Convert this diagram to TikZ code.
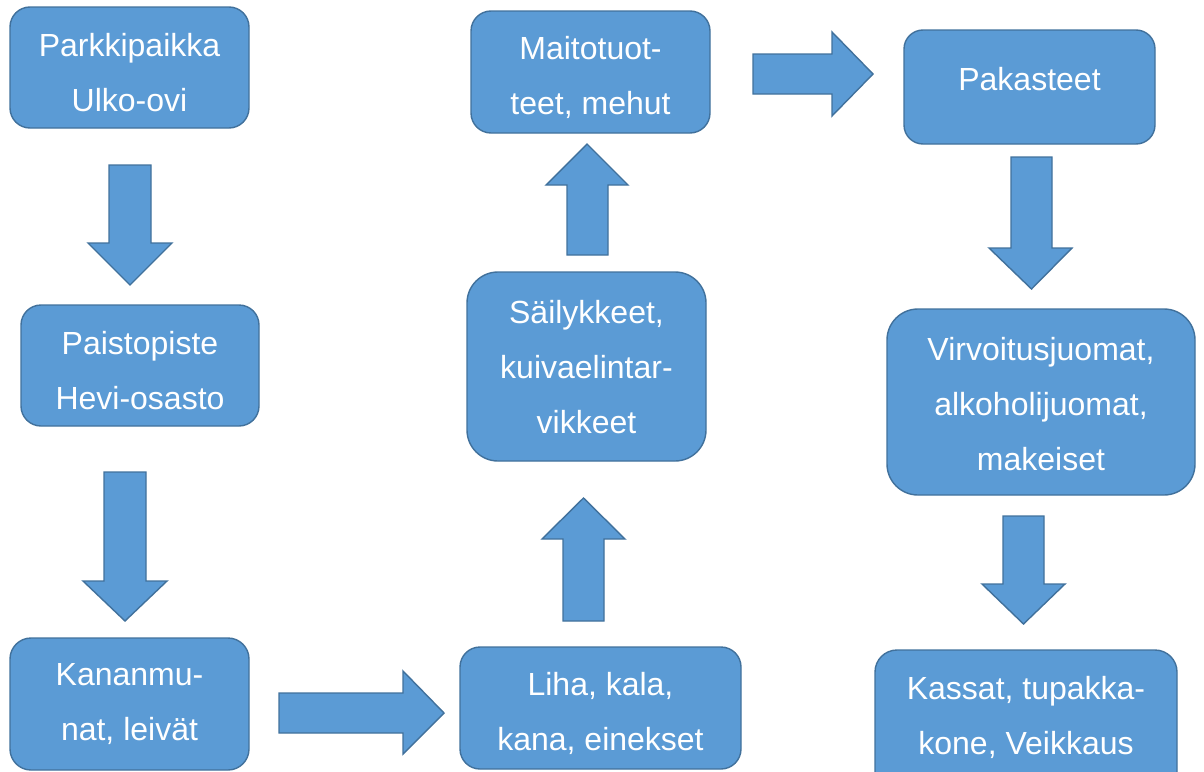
\documentclass[tikz,border=0pt]{standalone}
\usepackage{fontspec}
\setmainfont{Liberation Sans}
\definecolor{boxfill}{HTML}{5B9BD5}
\definecolor{boxline}{HTML}{41719C}
\begin{document}
\begin{tikzpicture}[x=1pt,y=-1pt,
  stage/.style={draw=boxline,fill=boxfill,line width=1.4pt,inner sep=0pt,rectangle},
  lbl/.style={text=white,align=center,inner sep=0pt,font=\fontsize{32}{55}\selectfont},
  blockarrow/.style={draw=boxline,fill=boxfill,line width=1.4pt,line join=miter}]
\useasboundingbox (0,0) rectangle (1204,771);
% boxes
\node[stage,minimum width=239pt,minimum height=121pt,rounded corners=20pt] (b1) at (129.5,67.5) {};
\node[stage,minimum width=238pt,minimum height=121pt,rounded corners=20pt] (b2) at (140,365.5) {};
\node[stage,minimum width=239pt,minimum height=132pt,rounded corners=21pt] (b3) at (129.5,704) {};
\node[stage,minimum width=281pt,minimum height=122pt,rounded corners=20pt] (b4) at (600.5,708) {};
\node[stage,minimum width=239pt,minimum height=189pt,rounded corners=31pt] (b5) at (586.5,366.5) {};
\node[stage,minimum width=239pt,minimum height=122pt,rounded corners=20pt] (b6) at (590.5,72) {};
\node[stage,minimum width=251pt,minimum height=114pt,rounded corners=19pt] (b7) at (1029.5,87) {};
\node[stage,minimum width=308pt,minimum height=186pt,rounded corners=31pt] (b8) at (1041,402) {};
\node[stage,minimum width=302pt,minimum height=145pt,rounded corners=22pt] (b9) at (1026,722.5) {};
% texts
\node[lbl] (t1) at (129.5,73) {Parkkipaikka\\Ulko-ovi};
\node[lbl] (t2) at (140,371) {Paistopiste\\Hevi-osasto};
\node[lbl] (t3) at (129.5,704) {Kananmu-\\nat, leivät};
\node[lbl] (t4) at (600.5,713.5) {Liha, kala,\\kana, einekset};
\node[lbl] (t5) at (586.5,367.5) {Säilykkeet,\\kuivaelintar-\\vikkeet};
\node[lbl] (t6) at (590.5,77) {Maitotuot-\\teet, mehut};
\node[lbl] (t7) at (1029.5,79.5) {Pakasteet};
\node[lbl] (t8) at (1041,404.5) {Virvoitusjuomat,\\alkoholijuomat,\\makeiset};
\node[lbl] (t9) at (1026,717) {Kassat, tupakka-\\kone, Veikkaus};
% block arrows
\draw[blockarrow] (109,165) -- (151,165) -- (151,243) -- (172,243) -- (130,285) -- (88,243) -- (109,243) -- cycle;
\draw[blockarrow] (104,472) -- (146,472) -- (146,581) -- (167,581) -- (125,621) -- (83,581) -- (104,581) -- cycle;
\draw[blockarrow] (279,693) -- (403,693) -- (403,671) -- (444,713) -- (403,754) -- (403,733) -- (279,733) -- cycle;
\draw[blockarrow] (563,621) -- (563,539) -- (542,539) -- (583.5,498) -- (625,539) -- (604,539) -- (604,621) -- cycle;
\draw[blockarrow] (567,255) -- (567,185) -- (546,185) -- (587,144) -- (628,185) -- (608,185) -- (608,255) -- cycle;
\draw[blockarrow] (753,54) -- (832,54) -- (832,32) -- (873,74) -- (832,116) -- (832,94) -- (753,94) -- cycle;
\draw[blockarrow] (1011,157) -- (1052,157) -- (1052,248) -- (1072,248) -- (1031.5,289) -- (989,248) -- (1011,248) -- cycle;
\draw[blockarrow] (1003,516) -- (1044,516) -- (1044,584) -- (1065,584) -- (1023.5,624) -- (982,584) -- (1003,584) -- cycle;
\end{tikzpicture}
\end{document}
